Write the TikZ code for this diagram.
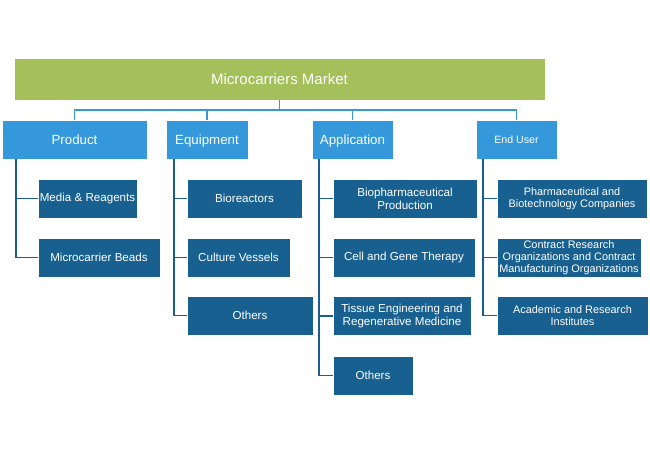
\documentclass[tikz,border=0pt]{standalone}
\usepackage{fontspec}
\setmainfont{Liberation Sans}
\definecolor{rootgreen}{HTML}{A4C05A}
\definecolor{lightblue}{HTML}{3498DB}
\definecolor{darkblue}{HTML}{17608F}
\definecolor{linedark}{HTML}{1B5E8E}
\tikzset{
  rootbox/.style={fill=rootgreen, draw=white, line width=0.8pt, text=white, inner sep=0pt,
    minimum height=42pt, text height=10.7pt, text depth=0pt, font=\fontsize{15}{17}\selectfont},
  catbox/.style={fill=lightblue, draw=white, line width=0.8pt, text=white, inner sep=0pt,
    minimum height=39pt, text height=9.5pt, text depth=0pt, font=\fontsize{13.3}{15}\selectfont},
  subbox/.style={fill=darkblue, draw=white, line width=0.8pt, text=white, inner sep=0pt,
    minimum height=39pt, align=center, font=\fontsize{11.6}{13.2}\selectfont},
  eubox/.style={subbox, font=\fontsize{10.9}{11.7}\selectfont},
  busline/.style={draw=lightblue, line width=1.8pt},
  treeline/.style={draw=linedark, line width=1.8pt},
}
\begin{document}
\begin{tikzpicture}[x=1pt,y=-1pt]
\useasboundingbox[fill=white] (0,0) rectangle (650,453);
% root
\node[rootbox, minimum width=531pt] (root) at (279.5,79) {Microcarriers Market};
% categories
\node[catbox, minimum width=145pt] (prod) at (74.5,139.5) {Product};
\node[catbox, minimum width=82pt] (equip) at (207,139.5) {Equipment};
\node[catbox, minimum width=81pt] (app) at (352.5,139.5) {Application};
\node[catbox, minimum width=81pt, text height=7.6pt, font=\fontsize{10.6}{12}\selectfont] (eu) at (516.5,139.5) {End User};
% product children
\node[subbox, minimum width=99pt] (media) at (87.5,198.5) {Media \& Reagents};
\node[subbox, minimum width=122pt] (beads) at (99,257.5) {Microcarrier Beads};
% equipment children
\node[subbox, minimum width=115pt] (bio) at (244.5,198.5) {Bioreactors};
\node[subbox, minimum width=103pt] (cult) at (238.5,257.5) {Culture Vessels};
\node[subbox, minimum width=126pt] (eqoth) at (250,315.5) {Others};
% application children
\node[subbox, minimum width=144pt] (biop) at (405,198.5) {Biopharmaceutical\\Production};
\node[subbox, minimum width=142pt] (cgt) at (404,257.5) {Cell and Gene Therapy};
\node[subbox, minimum width=138pt] (tiss) at (402,316) {Tissue Engineering and\\Regenerative Medicine};
\node[subbox, minimum width=80pt] (apoth) at (373,375.5) {Others};
% end user children
\node[eubox, minimum width=150pt] (pharma) at (572,198.5) {Pharmaceutical and\\Biotechnology Companies};
\node[eubox, minimum width=144pt] (cro) at (569,257.5) {Contract Research\\Organizations and Contract\\Manufacturing Organizations};
\node[eubox, minimum width=151pt] (acad) at (572.5,315.5) {Academic and Research\\Institutes};
% bus
\coordinate (bus) at (279.5,110);
\draw[busline] (root.south) -- (bus);
\draw[busline] (prod.north) |- (bus) -| (eu.north);
\draw[busline] (equip.north) -- (equip.north |- bus);
\draw[busline] (app.north) -- (app.north |- bus);
% tree lines
\draw[treeline] ([xshift=14pt]prod.south west) |- (media.west);
\draw[treeline] ([xshift=14pt]prod.south west) |- (beads.west);
\draw[treeline] ([xshift=8pt]equip.south west) |- (bio.west);
\draw[treeline] ([xshift=8pt]equip.south west) |- (cult.west);
\draw[treeline] ([xshift=8pt]equip.south west) |- (eqoth.west);
\draw[treeline] ([xshift=7pt]app.south west) |- (biop.west);
\draw[treeline] ([xshift=7pt]app.south west) |- (cgt.west);
\draw[treeline] ([xshift=7pt]app.south west) |- (tiss.west);
\draw[treeline] ([xshift=7pt]app.south west) |- (apoth.west);
\draw[treeline] ([xshift=7pt]eu.south west) |- (pharma.west);
\draw[treeline] ([xshift=7pt]eu.south west) |- (cro.west);
\draw[treeline] ([xshift=7pt]eu.south west) |- (acad.west);
\end{tikzpicture}
\end{document}
